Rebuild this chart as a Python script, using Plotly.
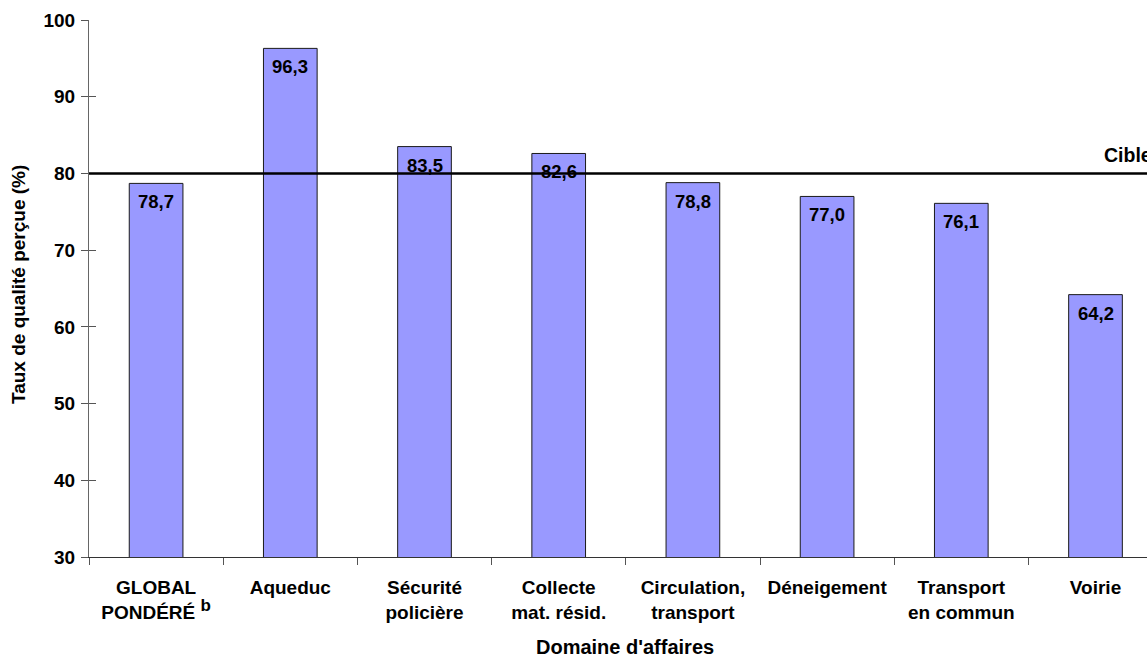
import plotly.graph_objects as go

# Domaines d'affaires et taux de qualité perçue (%)
categories = [
    "GLOBAL<br>PONDÉRÉ <sup><span style='font-size:17px'>b</span></sup>",
    "Aqueduc",
    "Sécurité<br>policière",
    "Collecte<br>mat. résid.",
    "Circulation,<br>transport",
    "Déneigement",
    "Transport<br>en commun",
    "Voirie",
]
values = [78.7, 96.3, 83.5, 82.6, 78.8, 77.0, 76.1, 64.2]
target = 80
y_ticks = [30, 40, 50, 60, 70, 80, 90, 100]

FONT = "Liberation Sans, Arial, sans-serif"
BAR_COLOR = "#9999FF"
X_RANGE = [-0.5, -0.5 + (1147 - 89) / 134.2]

fig = go.Figure()
fig.add_trace(go.Bar(
    x=list(range(len(categories))),
    y=values,
    width=0.4,
    marker=dict(color=BAR_COLOR, line=dict(color="#1a1a1a", width=1)),
    hoverinfo="skip",
))

# Value labels inside the top of each bar
for i, v in enumerate(values):
    fig.add_annotation(
        x=i, y=v, xref="x", yref="y",
        text=f"<b>{v:.1f}</b>".replace(".", ","),
        showarrow=False, yanchor="top", yshift=-6,
        font=dict(family=FONT, size=18.5, color="black"),
    )

# Target line
fig.add_shape(type="line", xref="paper", yref="y", x0=0, x1=1, y0=target, y1=target,
              line=dict(color="black", width=2.5), layer="above")
fig.add_annotation(x=0.9575, y=target, xref="paper", yref="y", text="<b>Cible</b>",
                   showarrow=False, xanchor="left", yanchor="bottom", yshift=5,
                   font=dict(family=FONT, size=19.5, color="black"))

# Axis titles
fig.add_annotation(x=0.5066, y=-0.168, xref="paper", yref="paper",
                   text="<b>Domaine d'affaires</b>", showarrow=False,
                   xanchor="center", yanchor="middle",
                   font=dict(family=FONT, size=20, color="black"))
fig.add_annotation(x=-0.0671, y=0.5065, xref="paper", yref="paper",
                   text="<b>Taux de qualité perçue (%)</b>", showarrow=False,
                   textangle=-90, xanchor="center", yanchor="middle",
                   font=dict(family=FONT, size=19, color="black"))

n = len(categories)
fig.update_layout(
    width=1147, height=658,
    margin=dict(l=89, r=0, t=20, b=101),
    paper_bgcolor="white", plot_bgcolor="white",
    showlegend=False,
    xaxis=dict(
        range=X_RANGE,
        tickmode="array",
        tickvals=list(range(n)),
        ticktext=[f"<b>{c}</b>" for c in categories],
        showgrid=False, zeroline=False,
        showline=True, linecolor="#333333", linewidth=1,
        ticks="",
        tickfont=dict(family=FONT, size=19, color="black"),
        ticklabelstandoff=13,
    ),
    xaxis2=dict(
        overlaying="x",
        range=X_RANGE,
        tickmode="array",
        tickvals=[i + 0.5 for i in range(-1, n)],
        showticklabels=False,
        ticks="outside", ticklen=7, tickcolor="#555555", tickwidth=1,
        showgrid=False, zeroline=False, showline=False,
        side="bottom",
    ),
    yaxis=dict(
        range=[30, 100],
        tickmode="array", tickvals=y_ticks,
        ticktext=[f"<b>{t}</b>" for t in y_ticks],
        showgrid=False, zeroline=False,
        showline=True, linecolor="#666666", linewidth=1,
        ticks="outside", ticklen=7, tickcolor="#555555", tickwidth=1,
        tickfont=dict(family=FONT, size=19, color="black"),
        ticklabelstandoff=2,
    ),
    yaxis2=dict(
        overlaying="y",
        range=[30, 100],
        tickmode="array", tickvals=y_ticks,
        showticklabels=False,
        ticks="inside", ticklen=7, tickcolor="#555555", tickwidth=1,
        showgrid=False, zeroline=False, showline=False,
    ),
)

# Invisible helper so the overlay axes are drawn
fig.add_trace(go.Scatter(x=[0], y=[30], xaxis="x2", yaxis="y2", mode="markers",
                         marker=dict(opacity=0), hoverinfo="skip"))

fig.write_html("out.html")
